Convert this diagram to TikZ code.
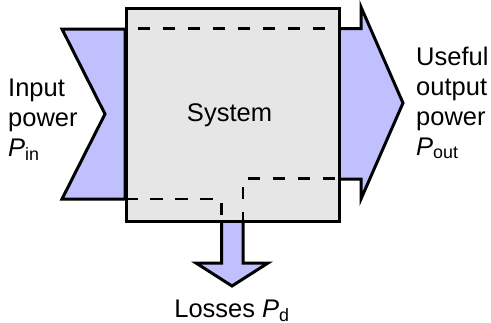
\documentclass[tikz,border=0pt]{standalone}
\usepackage{fontspec}
\setmainfont{Liberation Sans}
\definecolor{flowblue}{RGB}{192,192,255}
\definecolor{boxgray}{RGB}{230,230,230}
\tikzset{
  flow/.style={fill=flowblue, draw=black, line width=3pt, line join=miter},
  sysbox/.style={fill=boxgray, draw=black, line width=3pt},
  pathline/.style={draw=black, line width=2.5pt, dash pattern=on 12.5pt off 12.5pt},
  lbl/.style={inner sep=0pt, font=\fontsize{25.5}{30}\selectfont, align=left}
}
\begin{document}
\begin{tikzpicture}[x=1pt, y=-1pt]
  \useasboundingbox (0,0) rectangle (491,322);

  % incoming, outgoing and lost power flows
  \draw[flow] (62,29) -- (125,29) -- (125,199) -- (62,199) -- (105,114) -- cycle;
  \draw[flow] (330,28.5) -- (361,28.5) -- (361,7) -- (403,103) -- (361,199)
              -- (361,179) -- (330,179) -- cycle;
  \draw[flow] (221.5,212) -- (221.5,263) -- (196,263) -- (232,286) -- (268,263)
              -- (243,263) -- (243,212) -- cycle;

  % the system
  \node[sysbox, minimum width=213pt, minimum height=213.5pt, inner sep=0pt,
        anchor=north west] (sys) at (125,6.8) {};
  \node[lbl, anchor=base] (systxt) at (229.5,121.7) {System};

  % power paths through the system
  \coordinate (t1) at (125,28.5);
  \coordinate (t2) at (338,28.5);
  \coordinate (b1) at (125,199);
  \coordinate (b2) at (221.5,199);
  \coordinate (b3) at (221.5,220);
  \coordinate (u1) at (243,220);
  \coordinate (u2) at (243,178.5);
  \coordinate (u3) at (338,178.5);
  \draw[pathline, dash phase=12.5pt] (t1) -- (t2);
  \draw[pathline] (b1) -- (b2) -- (b3);
  \draw[pathline, dash phase=4pt] (u1) -- (u2) -- (u3);

  % labels
  \node[lbl, anchor=north west] (inlbl) at (8,78.3)
    {Input\\power\\\textit{P}\textsubscript{in}};
  \node[lbl, anchor=north west] (outlbl) at (416,46.5)
    {Useful\\output\\power\\\textit{P}\textsubscript{out}};
  \node[lbl, anchor=base] (losslbl) at (232,317)
    {Losses \textit{P}\textsubscript{d}};
\end{tikzpicture}
\end{document}
